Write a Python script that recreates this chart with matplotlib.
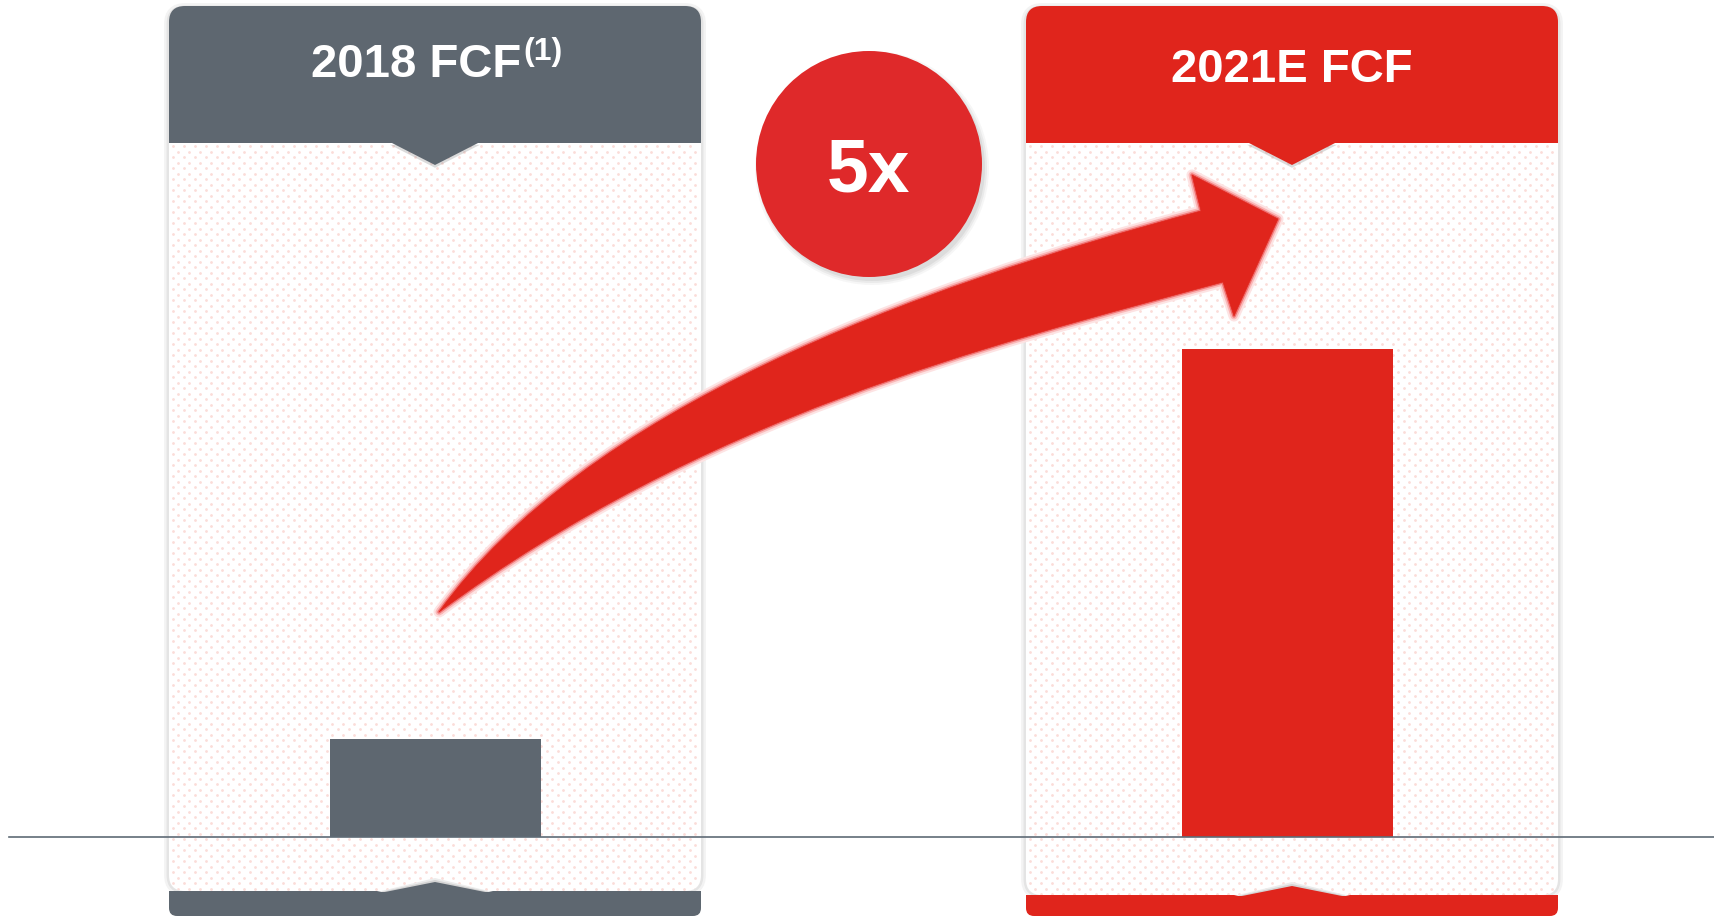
import numpy as np
import matplotlib.pyplot as plt
from matplotlib.patches import FancyBboxPatch, Rectangle, Polygon, Circle, PathPatch
from matplotlib.path import Path
import matplotlib.patheffects as pe

# Dados
periods = ['2018 FCF', '2021E FCF']
fcf = [1.0, 5.0]          # FCF relativo (2018 = 1)
multiple = '5x'
footnote = '(1)'

gray = '#5e6770'
red = '#e0251c'
circle_red = '#df292a'
bar_colors = [gray, red]

W, H = 1714, 917
plt.rcParams['font.family'] = ['Liberation Sans', 'DejaVu Sans']

fig = plt.figure(figsize=(W / 100, H / 100), dpi=100)
fig.patch.set_facecolor('white')

# fundo: cartoes em coordenadas de pixel
bg = fig.add_axes([0, 0, 1, 1])
bg.set_xlim(0, W)
bg.set_ylim(H, 0)
bg.axis('off')
bg.set_zorder(0)


def draw_card(x0, x1, strip_top, color):
    w = x1 - x0
    cx = (x0 + x1) / 2
    # sombra
    for lw, c in [(7, '#f3f3f3'), (3.5, '#e4e4e4')]:
        bg.add_patch(FancyBboxPatch((x0, 8), w, strip_top - 8,
                                    boxstyle='round,pad=0,rounding_size=16',
                                    fc='none', ec=c, lw=lw, zorder=1))
    # faixa inferior
    bg.add_patch(FancyBboxPatch((x0, strip_top), w, H - 1 - strip_top,
                                boxstyle='round,pad=0,rounding_size=8',
                                fc=color, ec='none', zorder=2))
    bg.add_patch(Rectangle((x0, strip_top), w, 10, fc=color, ec='none', zorder=2))
    # corpo
    body = FancyBboxPatch((x0, 60), w, strip_top - 60,
                          boxstyle='round,pad=0,rounding_size=16',
                          fc='white', ec='none', zorder=3)
    bg.add_patch(body)
    # pontinhos
    ys = np.arange(146, strip_top, 5.5)
    xx, yy = [], []
    for i, y in enumerate(ys):
        xs = np.arange(x0 + 4 + (5.5 if i % 2 else 0), x1, 11)
        xx.extend(xs)
        yy.extend([y] * len(xs))
    sc = bg.scatter(xx, yy, s=4, c='#fbdcd8', lw=0, zorder=4)
    sc.set_clip_path(body)
    # cabecalho
    bg.add_patch(FancyBboxPatch((x0, 6), w, 137,
                                boxstyle='round,pad=0,rounding_size=16',
                                fc=color, ec='none', zorder=5))
    bg.add_patch(Rectangle((x0, 100), w, 43, fc=color, ec='none', zorder=5))
    notch = Polygon([(cx - 45, 142), (cx, 165), (cx + 45, 142)], closed=True,
                    fc=color, ec='none', zorder=5)
    notch.set_path_effects([pe.SimplePatchShadow(offset=(0, -2), shadow_rgbFace='#999999', alpha=0.35),
                            pe.Normal()])
    bg.add_patch(notch)
    # bico da faixa inferior, com sombra
    for dx, dy, c in [(8, 4, '#ececec'), (4, 2, '#d4d4d4')]:
        bg.add_patch(Polygon([(cx - 50 - dx, strip_top + 1), (cx, strip_top - 9 - dy),
                              (cx + 50 + dx, strip_top + 1)],
                             closed=True, fc=c, ec='none', zorder=4.5))
    bg.add_patch(Polygon([(cx - 50, strip_top + 1), (cx, strip_top - 9), (cx + 50, strip_top + 1)],
                         closed=True, fc=color, ec='none', zorder=5))


draw_card(169, 701, 891, gray)
draw_card(1026, 1558, 895, red)

txt = dict(color='white', fontweight='bold', zorder=6)
bg.text(521, 77, periods[0], ha='right', va='baseline', fontsize=34, **txt)
bg.text(523, 37, footnote, ha='left', va='top', fontsize=23, **txt)
bg.text(1292, 82, periods[1], ha='center', va='baseline', fontsize=34, **txt)

# barras
ax = fig.add_axes([0, (H - 836.5) / H, 1, 836.5 / H])
ax.set_zorder(1)
ax.patch.set_visible(False)
ax.set_xlim(-435.5 / 852, (W - 435.5) / 852)
ax.set_ylim(0, 836.5 / 97.5)
x = np.arange(len(periods))
ax.bar(x, fcf, width=211 / 852, color=bar_colors, zorder=2)
ax.axhline(0, xmin=9 / W, xmax=1, color='#5f6b76', lw=1.2, clip_on=False, zorder=3)
ax.axis('off')

# seta e circulo
fg = fig.add_axes([0, 0, 1, 1])
fg.set_zorder(2)
fg.patch.set_visible(False)
fg.set_xlim(0, W)
fg.set_ylim(H, 0)
fg.axis('off')

verts = [(439, 612), (585, 409), (911, 288), (1201, 211),
         (1192, 175), (1278, 219), (1234, 316), (1223, 282),
         (982, 347), (705, 416), (439, 612), (439, 612)]
codes = [Path.MOVETO, Path.CURVE4, Path.CURVE4, Path.CURVE4,
         Path.LINETO, Path.LINETO, Path.LINETO, Path.LINETO,
         Path.CURVE4, Path.CURVE4, Path.CURVE4, Path.CLOSEPOLY]
arrow = PathPatch(Path(verts, codes), fc=red, ec=red, lw=0.5, zorder=3)
arrow.set_path_effects([pe.Stroke(linewidth=8, foreground='#fde3e3', joinstyle='round'),
                        pe.Stroke(linewidth=5, foreground='#fab8b8', joinstyle='round'),
                        pe.Stroke(linewidth=2.5, foreground='#f07272', joinstyle='round'),
                        pe.Normal()])
fg.add_patch(arrow)

for r, a in [(117, 0.05), (115, 0.07), (113, 0.09)]:
    fg.add_patch(Circle((872, 168), r, fc='#555555', ec='none', alpha=a, zorder=4))
fg.add_patch(Circle((869, 164), 113, fc=circle_red, ec='none', zorder=5))
fg.text(869, 192, multiple, ha='center', va='baseline', fontsize=54,
        color='white', fontweight='bold', zorder=6)

plt.savefig('out.png', dpi=100)
